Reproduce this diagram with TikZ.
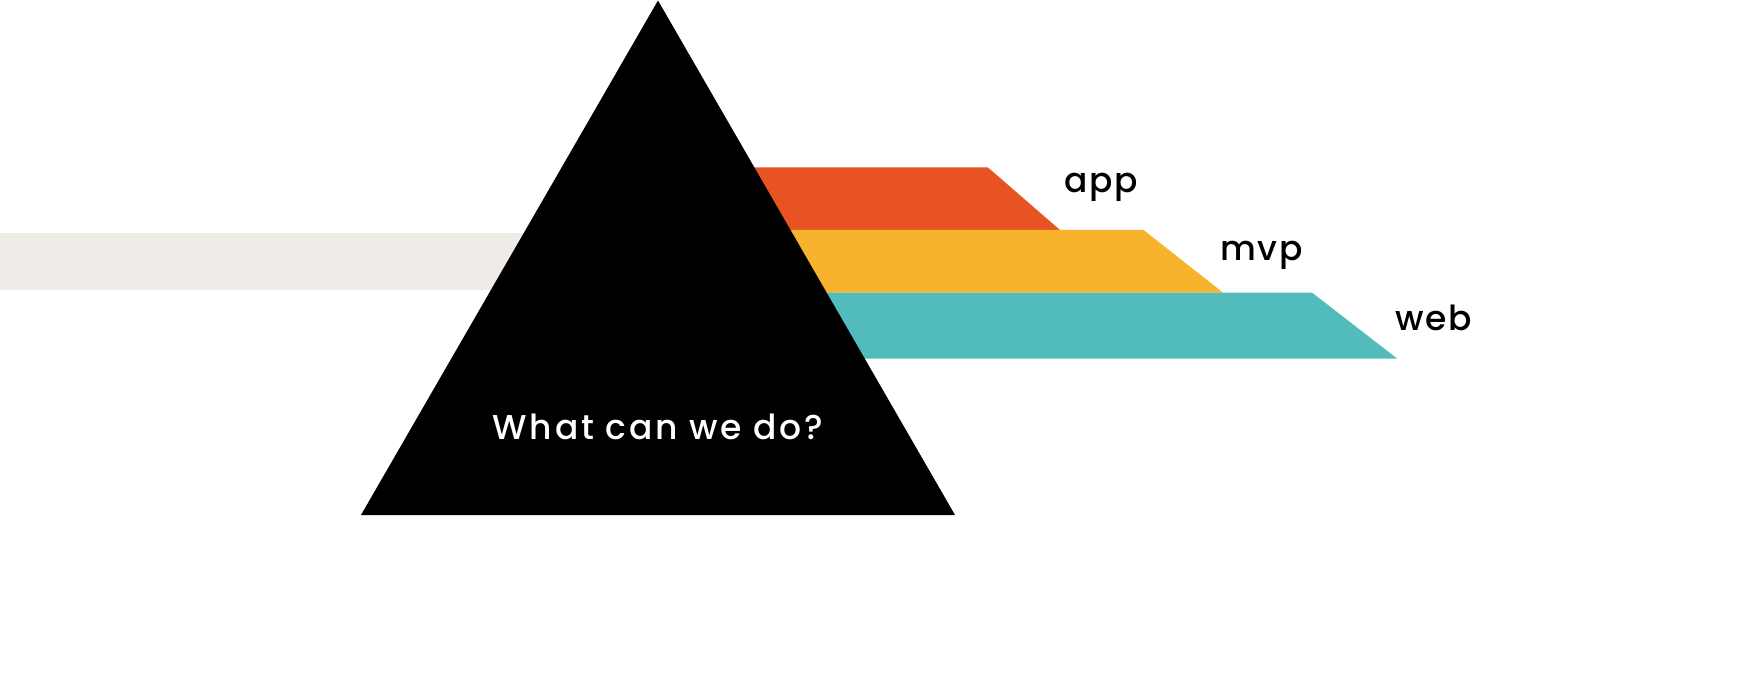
\documentclass[tikz,border=0pt]{standalone}
\usepackage{fontspec}
\setmainfont{Poppins}[UprightFont={* Medium}]
\definecolor{bandred}{HTML}{E85324}
\definecolor{bandyellow}{HTML}{F7B32B}
\definecolor{bandteal}{HTML}{52BBBB}
\definecolor{beam}{HTML}{EFEBE6}
\newfontfamily\lblfont{Poppins}[UprightFont={* Medium},LetterSpace=5]
\newfontfamily\titlefont{Poppins}[UprightFont={* Medium},LetterSpace=8]
\tikzset{
  lbl/.style={anchor=base west, inner sep=0pt, font=\lblfont\fontsize{34.5}{40}\selectfont, text=black},
  title/.style={anchor=base, inner sep=0pt, font=\titlefont\fontsize{34.5}{40}\selectfont, text=white},
}
\begin{document}
\begin{tikzpicture}[x=1pt,y=-1pt]
\useasboundingbox (0,0) rectangle (1751,687);
% incoming beam
\fill[beam] (0,233) rectangle (560,290);
% bands
\fill[bandred] (700,167.5) -- (988,167.5) -- (1060,230) -- (700,230) -- cycle;
\fill[bandyellow] (700,230) -- (1143.5,230) -- (1223,292.6) -- (700,292.6) -- cycle;
\fill[bandteal] (700,292.6) -- (1312,292.6) -- (1397,358.5) -- (700,358.5) -- cycle;
% prism
\fill[black] (658,0.5) -- (955,515) -- (361,515) -- cycle;
% labels
\node[title] (q) at (658,439) {What can we do?};
\node[lbl] (app) at (1064,193) {app};
\node[lbl] (mvp) at (1220,260) {mvp};
\node[lbl] (web) at (1395,330.5) {web};
\end{tikzpicture}
\end{document}
